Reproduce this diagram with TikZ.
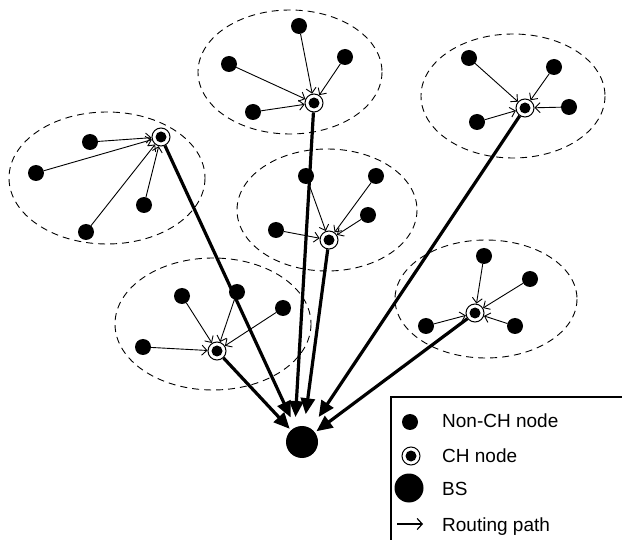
\documentclass[tikz,border=0pt]{standalone}
\usepackage{fontspec}
\setmainfont{Liberation Sans}
\usetikzlibrary{arrows.meta,calc}
\begin{document}
\begin{tikzpicture}[x=1pt,y=-1pt,
  dot/.style={circle, fill=black, minimum size=16pt, inner sep=0pt, outer sep=0pt},
  chn/.style={circle, draw=black, line width=1pt, fill=white, minimum size=18pt, inner sep=0pt, outer sep=0.5pt,
    path picture={\fill[black] (path picture bounding box.center) circle (5.5pt);}},
  bsn/.style={circle, fill=black, minimum size=32pt, inner sep=0pt, outer sep=0pt},
  clu/.style={draw=black, dash pattern=on 7pt off 5pt, line width=0.9pt},
  thin/.style={line width=0.9pt, -{Straight Barb[length=5pt,width=10pt,line width=0.9pt]}},
  route/.style={line width=3.2pt, -{Triangle[length=16pt,width=14pt]}},
  lab/.style={anchor=base west, inner sep=0pt, font=\fontsize{19}{22}\selectfont}
]
\useasboundingbox (0,0) rectangle (622,540);

% cluster ellipses
\draw[clu] (107,178) ellipse [x radius=98, y radius=66];
\draw[clu] (290,72) ellipse [x radius=92, y radius=62];
\draw[clu] (513,96) ellipse [x radius=92, y radius=62];
\draw[clu] (327,210) ellipse [x radius=90, y radius=61];
\draw[clu] (213,324) ellipse [x radius=98, y radius=66];
\draw[clu] (486,299) ellipse [x radius=91, y radius=59];

% base station
\node[bsn] (bs) at (302,442) {};

% cluster 1
\node[chn] (c1) at (161,137) {};
\node[dot] (a1) at (90,142) {};
\node[dot] (a2) at (36,173) {};
\node[dot] (a3) at (144,205) {};
\node[dot] (a4) at (86,232) {};
% cluster 2
\node[chn] (c2) at (314,103) {};
\node[dot] (b1) at (299,26) {};
\node[dot] (b2) at (229,64) {};
\node[dot] (b3) at (345,57) {};
\node[dot] (b4) at (253,112) {};
% cluster 3
\node[chn] (c3) at (525,108) {};
\node[dot] (d1) at (469,58) {};
\node[dot] (d2) at (554,67) {};
\node[dot] (d3) at (569,107) {};
\node[dot] (d4) at (477,122) {};
% cluster 4
\node[chn] (c4) at (329,240) {};
\node[dot] (e1) at (306,176) {};
\node[dot] (e2) at (376,176) {};
\node[dot] (e3) at (368,215) {};
\node[dot] (e4) at (276,230) {};
% cluster 5
\node[chn] (c5) at (217,351) {};
\node[dot] (f1) at (143,347) {};
\node[dot] (f2) at (182,296) {};
\node[dot] (f3) at (237,292) {};
\node[dot] (f4) at (283,308) {};
% cluster 6
\node[chn] (c6) at (475,313) {};
\node[dot] (g1) at (484,256) {};
\node[dot] (g2) at (530,279) {};
\node[dot] (g3) at (515,326) {};
\node[dot] (g4) at (426,326) {};

% intra-cluster links
\foreach \n in {a1,a2,a3,a4} \draw[thin] (\n) -- (c1);
\foreach \n in {b1,b2,b3,b4} \draw[thin] (\n) -- (c2);
\foreach \n in {d1,d2,d3,d4} \draw[thin] (\n) -- (c3);
\foreach \n in {e1,e2,e3,e4} \draw[thin] (\n) -- (c4);
\foreach \n in {f1,f2,f3,f4} \draw[thin] (\n) -- (c5);
\foreach \n in {g1,g2,g3,g4} \draw[thin] (\n) -- (c6);

% routing paths to BS
\draw[route, shorten >=11pt] (c1) -- (bs);
\draw[route, shorten >=25pt] (c2) -- ($(bs.center)+(-8,0)$);
\draw[route, shorten >=12pt] (c4) -- (bs);
\draw[route, shorten >=14pt] (c3) -- (bs);
\draw[route, shorten >=2pt] (c5) -- (bs);
\draw[route, shorten >=2pt] (c6) -- (bs);

% legend
\draw[line width=1.2pt] (391,541) -- (391,397) -- (623,397);
\node[dot] (l1) at (410,422) {};
\node[lab] (t1) at (442,428) {Non-CH node};
\node[chn] (l2) at (411,456) {};
\node[lab] (t2) at (442,462) {CH node};
\node[bsn, minimum size=29pt] (l3) at (409,488) {};
\node[lab] (t3) at (442,495) {BS};
\coordinate (l4a) at (397,524);
\coordinate (l4b) at (423,524);
\draw[line width=1.2pt, -{Straight Barb[length=5pt,width=11pt,line width=1.2pt]}] (l4a) -- (l4b);
\node[lab] (t4) at (442,531) {Routing path};
\end{tikzpicture}
\end{document}
